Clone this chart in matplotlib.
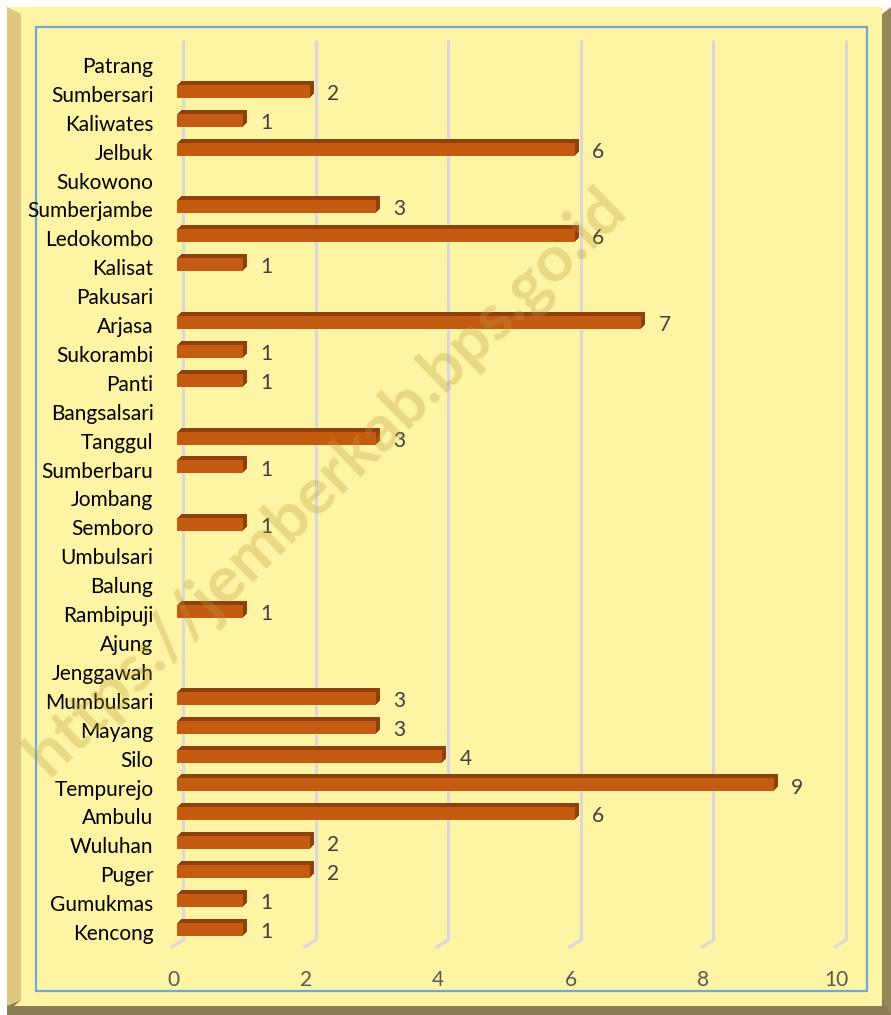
import numpy as np
import matplotlib
matplotlib.use("Agg")
import matplotlib.pyplot as plt
from matplotlib.patches import Polygon, Rectangle
from matplotlib.transforms import offset_copy, ScaledTranslation

plt.rcParams['font.family'] = ['Lato', 'DejaVu Sans']

# Kecamatan, top to bottom as shown
kecamatan = ['Patrang', 'Sumbersari', 'Kaliwates', 'Jelbuk', 'Sukowono', 'Sumberjambe',
             'Ledokombo', 'Kalisat', 'Pakusari', 'Arjasa', 'Sukorambi', 'Panti',
             'Bangsalsari', 'Tanggul', 'Sumberbaru', 'Jombang', 'Semboro', 'Umbulsari',
             'Balung', 'Rambipuji', 'Ajung', 'Jenggawah', 'Mumbulsari', 'Mayang', 'Silo',
             'Tempurejo', 'Ambulu', 'Wuluhan', 'Puger', 'Gumukmas', 'Kencong']
jumlah = [0, 2, 1, 6, 0, 3, 6, 1, 0, 7, 1, 1, 0, 3, 1, 0, 1, 0, 0, 1, 0, 0,
          3, 3, 4, 9, 6, 2, 2, 1, 1]
x_ticks = [0, 2, 4, 6, 8, 10]

# bottom-to-top order for the axis
cats = kecamatan[::-1]
vals = np.array(jumlah[::-1])
y = np.arange(len(cats))

W, H = 891, 1015
fig = plt.figure(figsize=(W / 100, H / 100), dpi=100)
fig.patch.set_facecolor('white')

# frame drawn in pixel coordinates
bg = fig.add_axes([0, 0, 1, 1])
bg.set_xlim(0, W)
bg.set_ylim(H, 0)
bg.axis('off')
bg.add_patch(Rectangle((7, 7), 875, 999, facecolor='#FFF4A3', edgecolor='none'))
bg.add_patch(Polygon([(7, 7), (21, 14), (21, 1000), (7, 1006)], closed=True,
                     facecolor='#DEC880', edgecolor='none'))
bg.add_patch(Polygon([(882, 14), (891, 7), (891, 1015), (882, 1006)], closed=True,
                     facecolor='#978659', edgecolor='none'))
bg.add_patch(Polygon([(7, 1006), (21, 1000), (882, 1000), (891, 1015), (7, 1015)],
                     closed=True, facecolor='#8A7C55', edgecolor='none'))
bg.add_patch(Polygon([(21, 1000), (882, 1000), (882, 1006), (14, 1006)], closed=True,
                     facecolor='#FFF4A3', edgecolor='none'))
bg.add_patch(Rectangle((36, 27), 831, 964, facecolor='none', edgecolor='#6FA8DC', lw=1.6))

# plot area: x=0 at the front edge of the bars
ax = fig.add_axes([177 / W, 1 - 946.5 / H, 663 / W, 896 / H])
ax.set_xlim(0, 10)
ax.set_ylim(-0.5, len(cats) - 0.5)
ax.patch.set_visible(False)
for s in ax.spines.values():
    s.set_visible(False)

# 3D-style gridlines (back wall + floor slant)
xt = ax.get_xaxis_transform()
back = offset_copy(xt, fig=fig, x=6, y=0, units='dots')
for v in x_ticks:
    ax.plot([v, v], [1.0117, 0.0073], color='#D9D9D9', lw=2.2, transform=back,
            clip_on=False, zorder=1, solid_capstyle='butt')
for v in x_ticks:
    p0 = back.transform((v, 0.0073))
    p1 = offset_copy(xt, fig=fig, x=-5, y=-7, units='dots').transform((v, 0.0073))
    ax.plot([p0[0], p1[0]], [p0[1], p1[1]], color='#D9D9D9', lw=2.2,
            transform=None, clip_on=False, zorder=1)

# bars: extruded side, then front face
yb = y + 0.09
bh = 0.45
for k in range(4, 0, -1):
    ax.barh(yb, vals, height=bh, color='#8E400D', lw=0, zorder=2,
            transform=offset_copy(ax.transData, fig=fig, x=k, y=k, units='dots'))
ax.barh(yb, vals, height=bh, color='#C55A11', lw=0, zorder=3)

for yi, v in zip(y, vals):
    if v > 0:
        ax.annotate(str(v), (v, yi), xytext=(12.5, 0), textcoords='offset points',
                    ha='left', va='center', fontsize=15, color='#404040', zorder=4)

ax.set_yticks(y)
ax.set_yticklabels(cats, fontsize=15, color='black')
ax.tick_params(axis='y', length=0, pad=17)
ax.set_xticks(x_ticks)
ax.set_xticklabels([str(t) for t in x_ticks], fontsize=15, color='#595959')
ax.tick_params(axis='x', length=0, pad=17)
for lab in ax.get_xticklabels():
    lab.set_transform(lab.get_transform() + ScaledTranslation(-4 / 100, 0, fig.dpi_scale_trans))

# watermark
fig.text(327 / W, 1 - 482 / H, 'https://jemberkab.bps.go.id', rotation=44.3,
         ha='center', va='center', fontsize=47, fontweight='bold',
         color='#B89B3C', alpha=0.3, zorder=10)

fig.savefig('out.png', dpi=100)
